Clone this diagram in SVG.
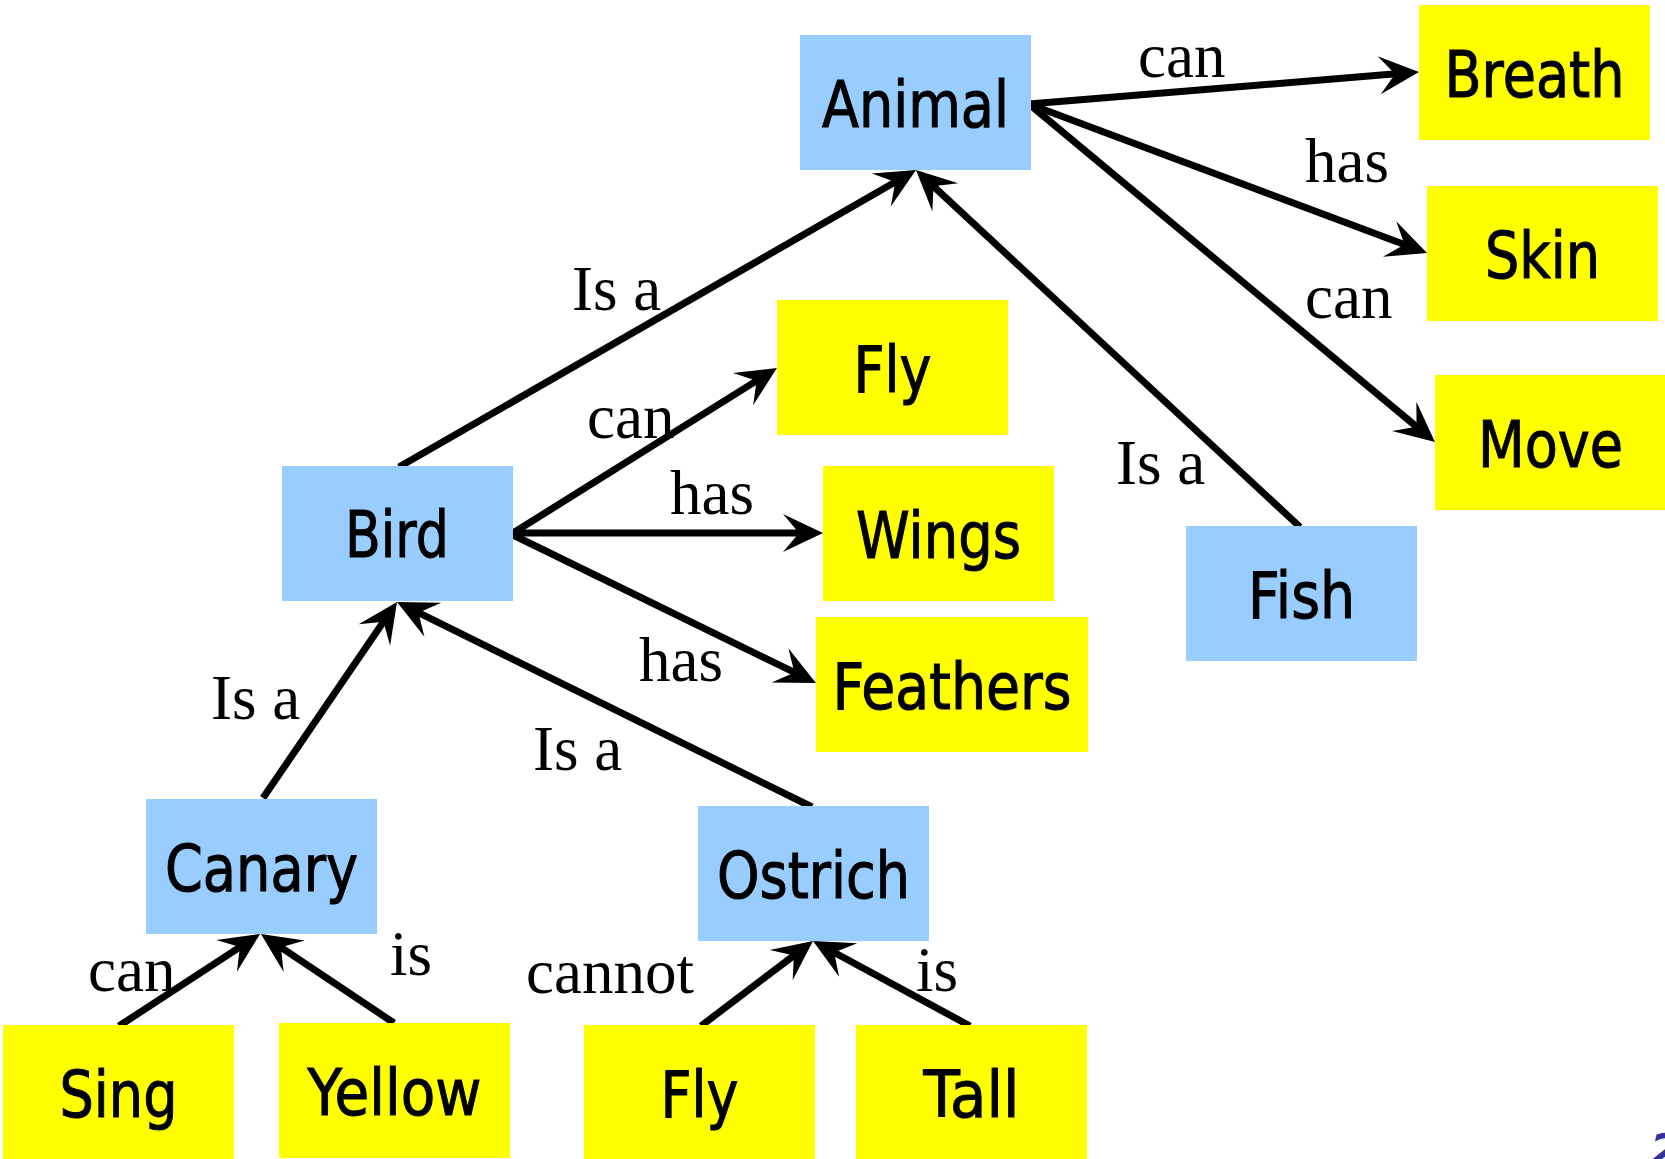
<svg xmlns="http://www.w3.org/2000/svg" width="1665" height="1159" viewBox="0 0 1665 1159">
  <style>
    .cls { fill: #99CCFF; }
    .prop { fill: #FFFF00; }
    .nt { font-family: "DejaVu Sans", Verdana, sans-serif; font-size: 64px; fill: #000; stroke: #000; stroke-width: 1.1px; text-anchor: middle; }
    .el { font-family: "Liberation Serif", "Times New Roman", serif; font-size: 63px; fill: #000; }
    .edge { stroke: #000; stroke-width: 7; fill: none; marker-end: url(#arrow); }
  </style>
  <defs>
    <marker id="arrow" markerUnits="userSpaceOnUse" viewBox="-22 -21 44 42" refX="0" refY="0" markerWidth="44" markerHeight="42" orient="auto">
      <path d="M20,0 L-20,-19 L-4,0 L-20,19 Z" fill="#000"/>
    </marker>
  </defs>
  <rect width="1665" height="1159" fill="#fff"/>

  <!-- connectors: each line stops short of its target so the arrowhead tip lands on the box edge -->
  <g id="connectors">
    <line class="edge" x1="1029" y1="104" x2="1399.1" y2="73.6"/>
    <line class="edge" x1="1029" y1="104" x2="1408.3" y2="246.0"/>
    <line class="edge" x1="1029" y1="104" x2="1419.6" y2="429.2"/>
    <line class="edge" x1="1300" y1="527" x2="930.6" y2="183.6"/>
    <line class="edge" x1="399" y1="467" x2="898.7" y2="180.0"/>
    <line class="edge" x1="513" y1="533" x2="760.0" y2="378.6"/>
    <line class="edge" x1="513" y1="533" x2="803" y2="533"/>
    <line class="edge" x1="513" y1="535" x2="798.0" y2="674.2"/>
    <line class="edge" x1="263" y1="798" x2="385.7" y2="618.5"/>
    <line class="edge" x1="812" y1="807" x2="414.9" y2="610.9"/>
    <line class="edge" x1="119" y1="1026" x2="243.3" y2="944.9"/>
    <line class="edge" x1="394" y1="1023" x2="277.6" y2="945.1"/>
    <line class="edge" x1="701" y1="1026" x2="797.1" y2="953.1"/>
    <line class="edge" x1="970" y1="1026" x2="830.6" y2="950.5"/>
  </g>

  <!-- connector labels -->
  <g id="edge-labels">
    <text class="el" x="1138" y="77">can</text>
    <text class="el" x="1305" y="182">has</text>
    <text class="el" x="1305" y="318">can</text>
    <text class="el" x="1116" y="484">Is a</text>
    <text class="el" x="572" y="310">Is a</text>
    <text class="el" x="587" y="438">can</text>
    <text class="el" x="670" y="514">has</text>
    <text class="el" x="639" y="681">has</text>
    <text class="el" x="211" y="719">Is a</text>
    <text class="el" x="533" y="770">Is a</text>
    <text class="el" x="88" y="991">can</text>
    <text class="el" x="390" y="975">is</text>
    <text class="el" x="526" y="993">cannot</text>
    <text class="el" x="916" y="991">is</text>
  </g>

  <!-- class nodes (blue) -->
  <g id="node-animal"><rect class="cls" x="800" y="35" width="231" height="135"/><text class="nt" x="915.5" y="127" textLength="187" lengthAdjust="spacingAndGlyphs">Animal</text></g>
  <g id="node-bird"><rect class="cls" x="282" y="466" width="231" height="135"/><text class="nt" x="397" y="557" textLength="104" lengthAdjust="spacingAndGlyphs">Bird</text></g>
  <g id="node-fish"><rect class="cls" x="1186" y="526" width="231" height="135"/><text class="nt" x="1301.5" y="618" textLength="107" lengthAdjust="spacingAndGlyphs">Fish</text></g>
  <g id="node-canary"><rect class="cls" x="146" y="799" width="231" height="135"/><text class="nt" x="261.5" y="891" textLength="193" lengthAdjust="spacingAndGlyphs">Canary</text></g>
  <g id="node-ostrich"><rect class="cls" x="698" y="806" width="231" height="135"/><text class="nt" x="813.5" y="898" textLength="193" lengthAdjust="spacingAndGlyphs">Ostrich</text></g>

  <!-- property nodes (yellow) -->
  <g id="node-breath"><rect class="prop" x="1419" y="5" width="231" height="135"/><text class="nt" x="1534.5" y="97" textLength="180" lengthAdjust="spacingAndGlyphs">Breath</text></g>
  <g id="node-skin"><rect class="prop" x="1427" y="186" width="231" height="135"/><text class="nt" x="1542.5" y="278" textLength="115" lengthAdjust="spacingAndGlyphs">Skin</text></g>
  <g id="node-move"><rect class="prop" x="1435" y="375" width="231" height="135"/><text class="nt" x="1550.5" y="467" textLength="145" lengthAdjust="spacingAndGlyphs">Move</text></g>
  <g id="node-fly"><rect class="prop" x="777" y="300" width="231" height="135"/><text class="nt" x="892.5" y="392" textLength="78" lengthAdjust="spacingAndGlyphs">Fly</text></g>
  <g id="node-wings"><rect class="prop" x="823" y="466" width="231" height="135"/><text class="nt" x="938.5" y="558" textLength="165" lengthAdjust="spacingAndGlyphs">Wings</text></g>
  <g id="node-feathers"><rect class="prop" x="816" y="617" width="272" height="135"/><text class="nt" x="952" y="709" textLength="239" lengthAdjust="spacingAndGlyphs">Feathers</text></g>
  <g id="node-sing"><rect class="prop" x="3" y="1025" width="231" height="135"/><text class="nt" x="118.5" y="1117" textLength="118" lengthAdjust="spacingAndGlyphs">Sing</text></g>
  <g id="node-yellow"><rect class="prop" x="279" y="1023" width="231" height="135"/><text class="nt" x="394.5" y="1115" textLength="174" lengthAdjust="spacingAndGlyphs">Yellow</text></g>
  <g id="node-fly-2"><rect class="prop" x="584" y="1025" width="231" height="135"/><text class="nt" x="699.5" y="1117" textLength="78" lengthAdjust="spacingAndGlyphs">Fly</text></g>
  <g id="node-tall"><rect class="prop" x="856" y="1025" width="231" height="135"/><text class="nt" x="971.5" y="1117" textLength="96" lengthAdjust="spacingAndGlyphs">Tall</text></g>

  <!-- page number, cut by the lower edge -->
  <text x="1650" y="1166" font-family="'DejaVu Sans', Verdana, sans-serif" font-size="44" font-weight="bold" font-style="italic" fill="#333399">2</text>
</svg>
